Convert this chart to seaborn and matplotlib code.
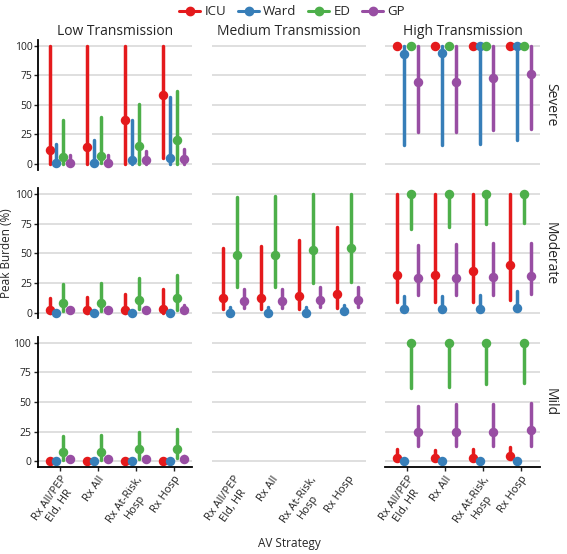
"""
Peak burden (%) by AV strategy, care setting, transmission and severity
"""
import pandas as pd
import seaborn as sns
import matplotlib.pyplot as plt
from matplotlib.lines import Line2D

strategies = ['Rx All/PEP\nEld, HR', 'Rx All', 'Rx At-Risk,\nHosp', 'Rx Hosp']
settings = ['ICU', 'Ward', 'ED', 'GP']
transmissions = ['Low Transmission', 'Medium Transmission', 'High Transmission']
severities = ['Severe', 'Moderate', 'Mild']
pal = sns.color_palette(['#E41A1C', '#377EB8', '#4DAF4A', '#984EA3'])

# rows of each array: ICU, Ward, ED, GP -- columns: the four strategies
low_severe_mid = [[12, 14, 37, 58], [1, 1, 3, 5], [6, 7, 15, 20], [1, 1, 3, 4]]
low_severe_lo = [[0, 0, 0, 5], [0, 0, 0, 0], [0, 1, 0, 0], [0, 0, 0, 0]]
low_severe_hi = [[100, 100, 100, 100], [17, 20, 37, 57], [37, 40, 51, 62], [8, 8, 11, 13]]

high_severe_mid = [[100, 100, 100, 100], [93, 94, 100, 100], [100, 100, 100, 100], [69, 69, 73, 76]]
high_severe_lo = [[100, 100, 100, 100], [16, 16, 17, 20], [100, 100, 100, 100], [27, 27, 29, 30]]
high_severe_hi = [[100, 100, 100, 100], [100, 100, 100, 100], [100, 100, 100, 100], [100, 100, 100, 100]]

low_moderate_mid = [[2, 2, 2, 3], [0, 0, 0, 0], [8, 8, 11, 12], [2, 2, 2, 2]]
low_moderate_lo = [[0, 0, 0, 0], [0, 0, 0, 0], [1, 1, 3, 2], [1, 1, 1, 1]]
low_moderate_hi = [[12, 13, 16, 20], [0, 0, 0, 0], [24, 25, 29, 32], [3, 3, 4, 6]]

med_moderate_mid = [[12, 12, 14, 16], [0, 0, 0, 1], [49, 49, 53, 55], [10, 10, 11, 11]]
med_moderate_lo = [[3, 3, 3, 4], [0, 0, 0, 0], [22, 22, 25, 26], [4, 4, 5, 5]]
med_moderate_hi = [[55, 56, 61, 72], [5, 5, 5, 6], [98, 99, 100, 100], [20, 20, 22, 22]]

high_moderate_mid = [[32, 32, 35, 40], [3, 3, 3, 4], [100, 100, 100, 100], [29, 29, 30, 31]]
high_moderate_lo = [[9, 9, 9, 11], [3, 3, 3, 4], [71, 72, 75, 76], [15, 15, 15, 16]]
high_moderate_hi = [[100, 100, 100, 100], [14, 14, 15, 18], [100, 100, 100, 100], [57, 58, 59, 59]]

low_mild_mid = [[0, 0, 0, 0], [0, 0, 0, 0], [8, 8, 10, 10], [2, 2, 2, 2]]
low_mild_lo = [[0, 0, 0, 0], [0, 0, 0, 0], [1, 1, 2, 3], [1, 1, 1, 1]]
low_mild_hi = [[0, 0, 0, 0], [0, 0, 0, 0], [21, 22, 25, 27], [3, 3, 3, 4]]

high_mild_mid = [[3, 3, 3, 4], [0, 0, 0, 0], [100, 100, 100, 100], [25, 25, 25, 26]]
high_mild_lo = [[3, 3, 3, 4], [0, 0, 0, 0], [62, 63, 65, 66], [13, 13, 13, 13]]
high_mild_hi = [[10, 9, 10, 12], [0, 0, 0, 0], [100, 100, 100, 100], [47, 48, 48, 49]]

panels = {
    ('Low Transmission', 'Severe'): (low_severe_lo, low_severe_mid, low_severe_hi),
    ('High Transmission', 'Severe'): (high_severe_lo, high_severe_mid, high_severe_hi),
    ('Low Transmission', 'Moderate'): (low_moderate_lo, low_moderate_mid, low_moderate_hi),
    ('Medium Transmission', 'Moderate'): (med_moderate_lo, med_moderate_mid, med_moderate_hi),
    ('High Transmission', 'Moderate'): (high_moderate_lo, high_moderate_mid, high_moderate_hi),
    ('Low Transmission', 'Mild'): (low_mild_lo, low_mild_mid, low_mild_hi),
    ('High Transmission', 'Mild'): (high_mild_lo, high_mild_mid, high_mild_hi),
}

# long format: lo / mid / hi rows -> median gives the point, 100% interval gives the range
rows = []
for (trans, sev), arrays in panels.items():
    for arr in arrays:
        for i, setting in enumerate(settings):
            for j, strat in enumerate(strategies):
                rows.append({'trans': trans, 'sev': sev, 'setting': setting,
                             'strategy': strat, 'burden': arr[i][j]})
df = pd.DataFrame(rows)

sns.set_theme(style='white', context='paper')
plt.rcParams['font.family'] = ['Open Sans', 'DejaVu Sans']
plt.rcParams['xtick.labelsize'] = 8
plt.rcParams['ytick.labelsize'] = 7.5
plt.rcParams['axes.labelsize'] = 8.5
plt.rcParams['axes.titlesize'] = 10
plt.rcParams['axes.titlepad'] = 3.5

g = sns.FacetGrid(df, row='sev', col='trans', row_order=severities, col_order=transmissions,
                  margin_titles=True, height=5.54 / 3, aspect=1.0235, despine=False)
g.map_dataframe(sns.pointplot, x='strategy', y='burden', hue='setting',
                order=strategies, hue_order=settings, palette=pal,
                estimator='median', errorbar=('pi', 100), dodge=0.55,
                linestyle='none', markersize=5.2, err_kws={'linewidth': 2.5}, legend=False)
g.set_titles(row_template='{row_name}', col_template='{col_name}', size=10)

for r in range(3):
    for c in range(3):
        ax = g.axes[r, c]
        ax.set_ylim(-5, 105)
        ax.set_xlim(-0.58, 3.5)
        ax.set_yticks([0, 25, 50, 75, 100])
        ax.grid(axis='y', color='#D6D6D6', lw=1.1)
        ax.set_axisbelow(True)
        for sp in ax.spines.values():
            sp.set_visible(False)
        ax.set_xlabel('')
        ax.set_ylabel('')
        ax.tick_params(left=False, bottom=False, labelleft=False, labelbottom=False,
                       colors='#222222', length=3, width=1)
        if c == 0:
            ax.spines['left'].set_visible(True)
            ax.spines['left'].set_color('black')
            ax.spines['left'].set_linewidth(1.3)
            ax.tick_params(left=True, labelleft=True, pad=1)
        if r == 2:
            ax.tick_params(labelbottom=True, pad=2)
            if c != 1:
                ax.spines['bottom'].set_visible(True)
                ax.spines['bottom'].set_color('black')
                ax.spines['bottom'].set_linewidth(1.3)
                ax.tick_params(bottom=True)
            plt.setp(ax.get_xticklabels(), rotation=55, ha='right',
                     rotation_mode='anchor', multialignment='center')

g.axes[1, 0].set_ylabel('Peak Burden (%)', labelpad=1)
g.axes[2, 1].set_xlabel('AV Strategy')
g.axes[2, 1].xaxis.set_label_coords(0.5, -0.54)

handles = [Line2D([], [], color=col, marker='o', markersize=6, lw=2.2) for col in pal]
g.figure.legend(handles, settings, loc='upper center', bbox_to_anchor=(0.515, 1.012), ncol=4,
                frameon=False, fontsize=9.5, handlelength=1.6, handletextpad=0.3, columnspacing=0.9)

g.figure.set_size_inches(5.67, 5.54)
g.figure.subplots_adjust(left=0.067, right=0.952, top=0.928, bottom=0.157, wspace=0.124, hspace=0.142)
plt.savefig('out.png', dpi=100)
